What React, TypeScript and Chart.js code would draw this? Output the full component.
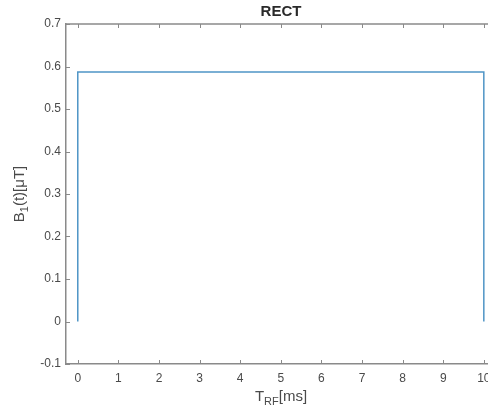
import React, { useEffect, useRef } from "react";
import { Chart, registerables } from "chart.js";

Chart.register(...registerables);

const timeMs: number[] = [0, 0, 10, 10];
const b1: number[] = [0, 0.587, 0.587, 0];
const xTicks: number[] = [0, 1, 2, 3, 4, 5, 6, 7, 8, 9, 10];
const yTicks: number[] = [-0.1, 0, 0.1, 0.2, 0.3, 0.4, 0.5, 0.6, 0.7];
const titleText = "RECT";

const FONT = "'Liberation Sans', Arial, Helvetica, sans-serif";
const AXIS_COLOR = "#8a8a8a";
const TEXT_COLOR = "#4a4a4a";

const boxPlugin = {
  id: "matlabBox",
  afterDraw(chart: any) {
    const { ctx, chartArea, scales } = chart;
    const { left, right, top, bottom } = chartArea;
    const xs = scales.x;
    const ys = scales.y;
    ctx.save();
    ctx.strokeStyle = AXIS_COLOR;
    ctx.lineWidth = 1.5;
    ctx.beginPath();
    ctx.moveTo(left, top);
    ctx.lineTo(right, top);
    ctx.lineTo(right, bottom);
    ctx.stroke();
    ctx.lineWidth = 1;
    const tl = 4;
    ctx.beginPath();
    for (const v of xTicks) {
      const px = Math.round(xs.getPixelForValue(v)) + 0.5;
      ctx.moveTo(px, bottom);
      ctx.lineTo(px, bottom - tl);
      ctx.moveTo(px, top);
      ctx.lineTo(px, top + tl);
    }
    for (const v of yTicks) {
      const py = Math.round(ys.getPixelForValue(v)) + 0.5;
      ctx.moveTo(left, py);
      ctx.lineTo(left + tl, py);
      ctx.moveTo(right, py);
      ctx.lineTo(right - tl, py);
    }
    ctx.stroke();

    // Title
    const cx = (left + right) / 2;
    ctx.fillStyle = "#2a2a2a";
    ctx.font = `bold 15px ${FONT}`;
    ctx.textAlign = "center";
    ctx.textBaseline = "alphabetic";
    ctx.fillText(titleText, cx, 16);

    // Axis labels with subscripts
    ctx.fillStyle = TEXT_COLOR;
    const big = `15px ${FONT}`;
    const small = `11px ${FONT}`;
    const drawSub = (parts: [string, boolean][], x0: number, y0: number) => {
      let total = 0;
      for (const [t, sub] of parts) {
        ctx.font = sub ? small : big;
        total += ctx.measureText(t).width;
      }
      let x = x0 - total / 2;
      ctx.textAlign = "left";
      for (const [t, sub] of parts) {
        ctx.font = sub ? small : big;
        ctx.fillText(t, x, sub ? y0 + 4 : y0);
        x += ctx.measureText(t).width;
      }
    };
    drawSub([["T", false], ["RF", true], ["[ms]", false]], cx, 401);

    const cy = (top + bottom) / 2;
    ctx.save();
    ctx.translate(24, cy);
    ctx.rotate(-Math.PI / 2);
    drawSub([["B", false], ["1", true], ["(t)[\u03bcT]", false]], 0, 0);
    ctx.restore();
    ctx.restore();
  },
};

export default function App() {
  const ref = useRef<HTMLCanvasElement | null>(null);
  useEffect(() => {
    document.documentElement.style.overflow = "hidden";
    const canvas = ref.current!;
    const chart = new Chart(canvas, {
      type: "scatter",
      data: {
        datasets: [
          {
            data: timeMs.map((t, i) => ({ x: t, y: b1[i] })),
            showLine: true,
            borderColor: "#4f95c6",
            borderWidth: 1.5,
            pointRadius: 0,
            fill: false,
          },
        ],
      },
      options: {
        animation: false,
        responsive: false,
        devicePixelRatio: 1,
        layout: { padding: { top: 24, right: 24, left: 0, bottom: 0 } },
        plugins: { legend: { display: false }, tooltip: { enabled: false }, title: { display: false } },
        scales: {
          x: {
            type: "linear",
            min: -0.29,
            max: 10.3,
            afterBuildTicks: (s: any) => {
              s.ticks = xTicks.map((v) => ({ value: v }));
            },
            afterFit: (s: any) => {
              s.height = 48;
            },
            grid: { display: true, drawOnChartArea: false, drawTicks: false },
            border: { display: true, color: AXIS_COLOR, width: 1.5 },
            ticks: {
              color: TEXT_COLOR,
              font: { family: FONT, size: 12 },
              padding: 7,
              maxRotation: 0,
              autoSkip: false,
              callback: (v: any) => String(v),
            },
          },
          y: {
            type: "linear",
            min: -0.1,
            max: 0.7,
            afterBuildTicks: (s: any) => {
              s.ticks = yTicks.map((v) => ({ value: v }));
            },
            afterFit: (s: any) => {
              s.width = 66;
            },
            grid: { display: true, drawOnChartArea: false, drawTicks: false },
            border: { display: true, color: AXIS_COLOR, width: 1.5 },
            ticks: {
              color: TEXT_COLOR,
              font: { family: FONT, size: 12 },
              padding: 5,
              autoSkip: false,
              callback: (v: any) => (Math.abs(v) < 1e-9 ? "0" : Number(v).toFixed(1)),
            },
          },
        },
      },
      plugins: [boxPlugin],
    });
    return () => chart.destroy();
  }, []);
  return (
    <div style={{ position: "fixed", left: 0, top: 0, width: 520, height: 412, background: "#fff" }}>
      <canvas ref={ref} width={520} height={412} style={{ display: "block" }} />
    </div>
  );
}
